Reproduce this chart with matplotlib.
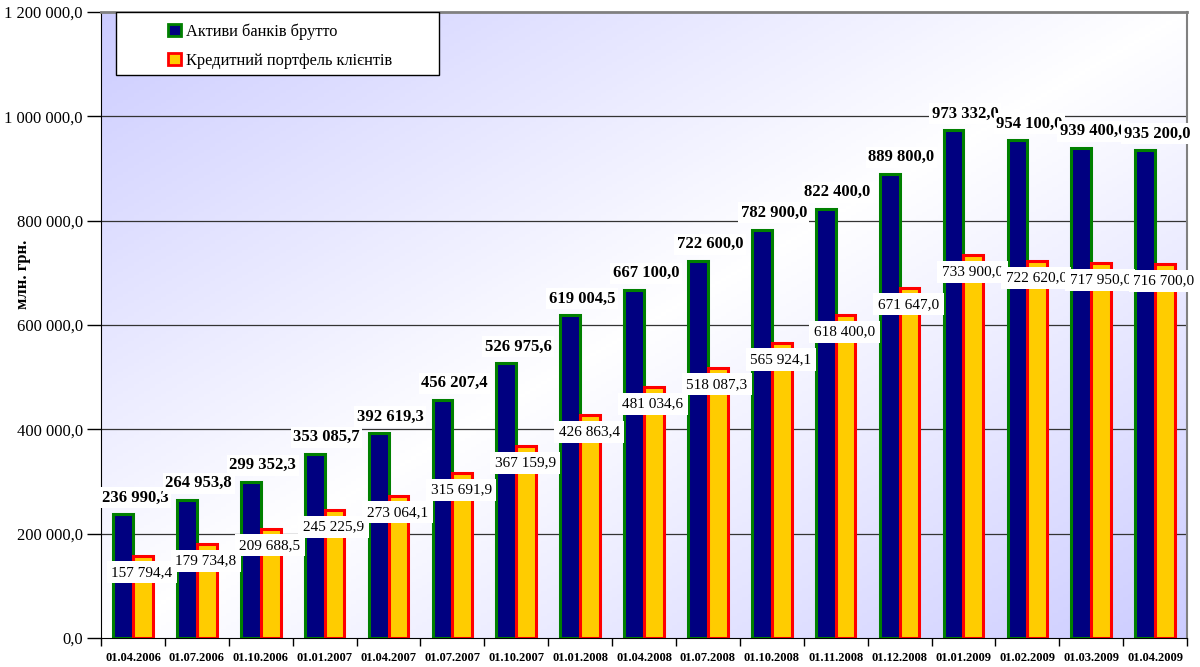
import numpy as np
import matplotlib
matplotlib.use("Agg")
import matplotlib.pyplot as plt
from matplotlib.patches import Patch, Rectangle

plt.rcParams['font.family'] = ['Liberation Serif', 'DejaVu Serif']

# dates (x axis)
dates = ["01.04.2006", "01.07.2006", "01.10.2006", "01.01.2007", "01.04.2007",
         "01.07.2007", "01.10.2007", "01.01.2008", "01.04.2008", "01.07.2008",
         "01.10.2008", "01.11.2008", "01.12.2008", "01.01.2009", "01.02.2009",
         "01.03.2009", "01.04.2009"]
# assets brutto
aktyvy = [236990.3, 264953.8, 299352.3, 353085.7, 392619.3, 456207.4, 526975.6,
          619004.5, 667100.0, 722600.0, 782900.0, 822400.0, 889800.0, 973332.0,
          954100.0, 939400.0, 935200.0]
# loan portfolio
kredyty = [157794.4, 179734.8, 209688.5, 245225.9, 273064.1, 315691.9, 367159.9,
           426863.4, 481034.6, 518087.3, 565924.1, 618400.0, 671647.0, 733900.0,
           722620.0, 717950.0, 716700.0]

def fmt(v):
    s = "{:,.1f}".format(v)
    return s.replace(",", " ").replace(".", ",")

fig = plt.figure(figsize=(12, 6.67), dpi=100)
ax = fig.add_axes([0.0842, 0.0435, 0.9050, 0.9385])

n = len(dates)
x = np.arange(n)
w = 0.31

# background gradient (lavender at top-left and bottom-right corners)
gx, gy = np.meshgrid(np.linspace(0, 1, 200), np.linspace(1, 0, 200))
t = np.abs(gx - gy)
lav = np.array([204, 204, 255]) / 255.0
img = np.ones((200, 200, 3)) * (1 - t[..., None]) + lav * t[..., None]
ax.imshow(img, extent=[-0.5, n - 0.5, 0, 1200000], aspect='auto', zorder=0)

ax.set_xlim(-0.5, n - 0.5)
ax.set_ylim(0, 1200000)

yt = np.arange(0, 1200001, 200000)
ax.set_yticks(yt)
ax.set_yticklabels([fmt(v) for v in yt], fontsize=12)
for v in yt[1:-1]:
    ax.axhline(v, color='#333333', lw=0.9, zorder=1)

ax.bar(x - w / 2, aktyvy, w, color='#000080', edgecolor='#008000', linewidth=2.2, zorder=2)
ax.bar(x + w / 2, kredyty, w, color='#FFCC00', edgecolor='#FF0000', linewidth=2.2, zorder=2)

for i in range(n):
    ax.annotate(fmt(aktyvy[i]), (x[i] + 0.03, aktyvy[i]), xytext=(0, 12), textcoords='offset points',
                ha='center', va='center', fontsize=12, fontweight='bold', zorder=4,
                bbox=dict(boxstyle='square,pad=0.15', fc='white', ec='none'))
    ax.annotate(fmt(kredyty[i]), (x[i] + 0.14, kredyty[i]), xytext=(0, -12), textcoords='offset points',
                ha='center', va='center', fontsize=11, zorder=4,
                bbox=dict(boxstyle='square,pad=0.3', fc='white', ec='none'))

ax.set_xticks(np.arange(-0.5, n, 1))
ax.set_xticklabels([])
ax.set_xticks(x, minor=True)
ax.set_xticklabels(dates, minor=True, fontsize=9, fontweight='bold')
ax.tick_params(axis='x', which='major', direction='out', length=6, width=1)
ax.tick_params(axis='x', which='minor', length=0, pad=10)
ax.tick_params(axis='y', direction='out', length=10, width=1, pad=3)

ax.spines['left'].set_color('black')
ax.spines['bottom'].set_color('black')
ax.spines['top'].set_color('#808080')
ax.spines['top'].set_linewidth(2)
ax.spines['right'].set_color('#808080')
ax.spines['right'].set_linewidth(1.5)

fig.text(0.019, 0.588, "млн. грн.", rotation=90, fontsize=12, fontweight='bold',
         ha='center', va='center')

# legend box
ax.add_patch(Rectangle((0.0135, 1 - 0.101), 0.2975, 0.101, transform=ax.transAxes,
                       facecolor='white', edgecolor='black', linewidth=1, zorder=5))
handles = [Patch(facecolor='#000080', edgecolor='#008000', linewidth=2),
           Patch(facecolor='#FFCC00', edgecolor='#FF0000', linewidth=2)]
leg = ax.legend(handles, ["Активи банків брутто", "Кредитний портфель клієнтів"],
                loc='upper left', bbox_to_anchor=(0.062, 0.982), fontsize=11.8,
                frameon=False, handlelength=0.75, handleheight=0.75, handletextpad=0.35,
                borderpad=0, labelspacing=0.8, borderaxespad=0)
leg.set_zorder(6)

fig.savefig("out.png", dpi=100)
